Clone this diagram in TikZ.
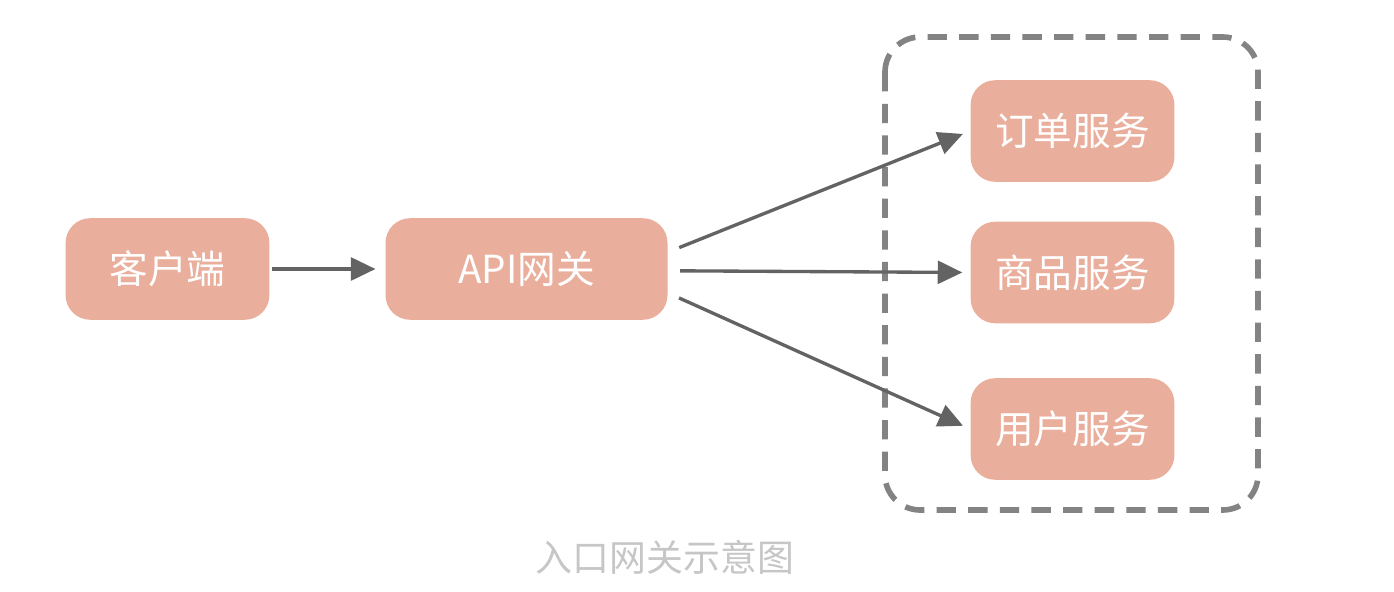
\documentclass[tikz,border=0pt]{standalone}
\usepackage{fontspec}
\newfontfamily\cjk{Noto Sans CJK SC}
\usetikzlibrary{arrows.meta}
\definecolor{boxpink}{HTML}{EAAE9C}
\definecolor{linegray}{HTML}{636363}
\definecolor{dashgray}{HTML}{838383}
\definecolor{capgray}{HTML}{C6C6C6}
\tikzset{
  svc/.style={fill=boxpink, rounded corners=14pt, text=white, inner sep=0pt,
    font=\cjk\fontsize{22}{26}\selectfont, minimum height=57.8pt, minimum width=116pt},
  flow/.style={-{Triangle[length=14pt,width=13pt]}, draw=linegray, line width=1.9pt}
}
\begin{document}
\begin{tikzpicture}[x=0.02cm, y=-0.02cm]
      \useasboundingbox (0,0) rectangle (1394,592);
      \draw[dashgray, line width=3.2pt, dash pattern=on 11pt off 7pt, rounded corners=20pt]
        (885,37) rectangle (1258,510);
      \path
        (167.5,269) node[svc] (client){客户端}
        (526.5,269) node[svc, minimum width=160.5pt] (gateway){API网关}
        (1072.5,131) node[svc] (order){订单服务}
        (1072.5,272.5) node[svc] (goods){商品服务}
        (1072.5,429) node[svc] (user){用户服务}
        (665,557) node[text=capgray, font=\cjk\fontsize{21}{24}\selectfont] (caption){入口网关示意图};
      \begin{scope}[flow]
        \draw[shorten <=1pt, shorten >=5.5pt] (client) to (gateway);
        \draw[shorten <=7pt, shorten >=4.5pt] ([yshift=9.6pt]gateway.east) to (order.west);
        \draw[shorten <=7pt, shorten >=4.5pt] ([yshift=-1pt]gateway.east) to (goods.west);
        \draw[shorten <=7pt, shorten >=4.5pt] ([yshift=-13.6pt]gateway.east) to (user.west);
      \end{scope}
    \end{tikzpicture}
\end{document}
